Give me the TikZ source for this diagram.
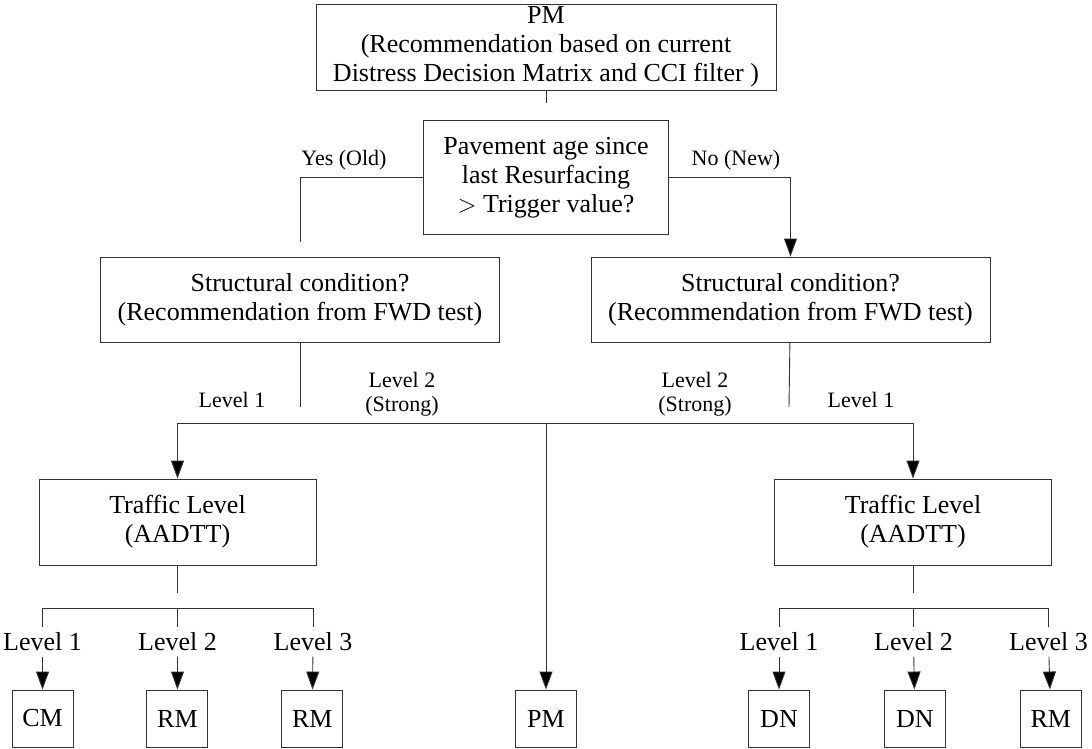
\documentclass[tikz,border=0pt]{standalone}
\usepackage{fontspec}
\setmainfont{Liberation Serif}
\usetikzlibrary{arrows.meta, positioning}

\begin{document}
\begin{tikzpicture}[
        x=1pt, y=-1pt,
        font=\fontsize{26}{29}\selectfont,
        box/.style={rectangle, draw=black!80, line width=0.9pt, align=center, inner sep=0pt},
        bigbox/.style={box, minimum width=399pt, minimum height=85pt},
        trafbox/.style={box, minimum width=277pt, minimum height=86pt},
        endbox/.style={box, minimum width=61pt, minimum height=57pt},
        lvl/.style={inner sep=0pt, minimum height=29pt},
        tag/.style={font=\fontsize{22}{24}\selectfont, align=center, inner sep=0pt},
        link/.style={draw=black!80, line width=0.9pt},
        arr/.style={link, -{Triangle[length=18pt, width=13pt, fill=black]}}
    ]
    \useasboundingbox (0,0) rectangle (1092,748);

    % Top of the tree
    \node[box, minimum width=460pt, minimum height=86pt] (pmtop) at (546,47)
        {PM\\(Recommendation based on current\\Distress Decision Matrix and CCI filter )};
    \node[box, minimum width=245pt, minimum height=114pt, below=30pt of pmtop] (age)
        {Pavement age since\\last Resurfacing\\$>$ Trigger value?};
    \coordinate (topend) at (546,103);
    \draw[link] (pmtop) -- (topend);

    % Structural condition
    \node[bigbox] (strL) at (300,299.5) {Structural condition?\\(Recommendation from FWD test)};
    \node[bigbox] (strR) at (790.5,299.5) {Structural condition?\\(Recommendation from FWD test)};
    \coordinate (yesend) at (300,242);
    \draw[link] (age.west) -| (yesend);
    \draw[arr] (age.east) -| (strR.north);
    \node[tag] (yes) at (344,160) {Yes (Old)};
    \node[tag] (no) at (736,160) {No (New)};

    % Level split after FWD test
    \coordinate (gapL) at (300,407);
    \coordinate (gapR) at (789,407);
    \draw[link] (strL) -- (gapL);
    \draw[link] (strR) -- (gapR);
    \node[tag] (slvL1) at (232,400) {Level 1};
    \node[tag] (slvL2) at (402,394) {Level 2\\(Strong)};
    \node[tag] (slvR2) at (695,394) {Level 2\\(Strong)};
    \node[tag] (slvR1) at (861,400) {Level 1};

    % Traffic levels
    \node[trafbox] (trafL) at (177.5,522) {Traffic Level\\(AADTT)};
    \node[trafbox] (trafR) at (913,522) {Traffic Level\\(AADTT)};
    \node[endbox] (pmbot) at (546,718.5) {PM};
    \coordinate (bus) at (546,423);
    \draw[arr] (bus) -| (trafL.north);
    \draw[arr] (bus) -| (trafR.north);
    \draw[arr] (bus) -- (pmbot.north);

    % Left branch
    \node[endbox] (cm) at (42.5,718.5) {CM};
    \node[endbox, right=73pt of cm] (rmA) {RM};
    \node[endbox, right=73pt of rmA] (rmB) {RM};
    \node[lvl] (lvA1) at (42.5,642) {Level 1};
    \node[lvl] (lvA2) at (177.5,642) {Level 2};
    \node[lvl] (lvA3) at (313,642) {Level 3};
    \coordinate (trafLend) at (177.5,593);
    \coordinate (barL) at (177.5,608);
    \draw[link] (trafL) -- (trafLend);
    \draw[link] (lvA1.north) |- (barL) -| (lvA3.north);
    \draw[link] (barL) -- (lvA2.north);
    \draw[arr] (lvA1) -- (cm);
    \draw[arr] (lvA2) -- (rmA);
    \draw[arr] (lvA3) -- (rmB);

    % Right branch
    \node[endbox] (dnA) at (779,718.5) {DN};
    \node[endbox, right=74pt of dnA] (dnB) {DN};
    \node[endbox, right=74pt of dnB] (rmC) {RM};
    \node[lvl] (lvB1) at (779,642) {Level 1};
    \node[lvl] (lvB2) at (913.5,642) {Level 2};
    \node[lvl] (lvB3) at (1048.5,642) {Level 3};
    \coordinate (trafRend) at (913,593);
    \coordinate (barR) at (913.5,608);
    \draw[link] (trafR) -- (trafRend);
    \draw[link] (lvB1.north) |- (barR) -| (lvB3.north);
    \draw[link] (barR) -- (lvB2.north);
    \draw[arr] (lvB1) -- (dnA);
    \draw[arr] (lvB2) -- (dnB);
    \draw[arr] (lvB3) -- (rmC);

\end{tikzpicture}
\end{document}
